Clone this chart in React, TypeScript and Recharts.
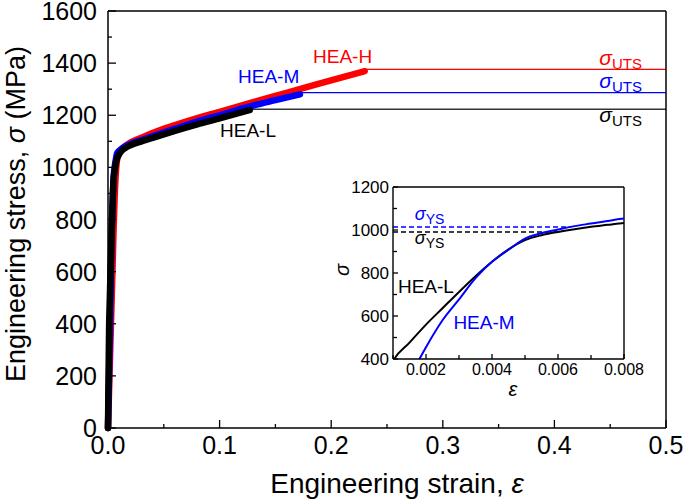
import React from "react";
import { LineChart, Line, XAxis, YAxis, ReferenceLine, ReferenceDot } from "recharts";

const FONT = "Arial, 'Liberation Sans', Helvetica, sans-serif";
const RED = "#ff0000";
const BLUE = "#0000ff";
const BLACK = "#000000";

// HEA-L
const strainL = [0, 0.0005, 0.001, 0.0015, 0.002, 0.0025, 0.003, 0.0035, 0.004, 0.0045, 0.005, 0.0055, 0.006, 0.0065, 0.007, 0.0075, 0.008, 0.01, 0.012, 0.015, 0.02, 0.03, 0.045, 0.06, 0.08, 0.1, 0.127];
const stressL = [0, 200, 391, 476, 560, 636, 712, 785, 852, 910, 953, 976, 991, 1004, 1015, 1024, 1033, 1050, 1062, 1073, 1085, 1100, 1120, 1140, 1165, 1188, 1220];

// HEA-M
const strainM = [0, 0.001, 0.0018, 0.002, 0.0025, 0.003, 0.0035, 0.004, 0.0045, 0.005, 0.0055, 0.006, 0.0065, 0.007, 0.0075, 0.008, 0.01, 0.012, 0.015, 0.02, 0.03, 0.045, 0.06, 0.08, 0.1, 0.127, 0.15, 0.172];
const stressM = [0, 220, 400, 455, 580, 677, 776, 852, 908, 960, 985, 1002, 1018, 1030, 1042, 1053, 1064, 1071, 1080, 1090, 1105, 1127, 1148, 1176, 1200, 1234, 1258, 1280];

// HEA-H
const strainH = [0, 0.002, 0.004, 0.005, 0.006, 0.007, 0.008, 0.01, 0.012, 0.015, 0.02, 0.03, 0.045, 0.06, 0.08, 0.1, 0.13, 0.16, 0.19, 0.23];
const stressH = [0, 300, 600, 760, 890, 975, 1025, 1055, 1068, 1080, 1095, 1114, 1140, 1162, 1189, 1213, 1250, 1286, 1322, 1369];

// ultimate tensile strength L, M, H and yield strength L, M
const utsStress = [1223, 1287, 1376];
const ysStress = [991, 1014];

// ticks
const mainXTicks = [0, 0.05, 0.1, 0.15, 0.2, 0.25, 0.3, 0.35, 0.4, 0.45, 0.5];
const mainXLabels = ["0.0", "", "0.1", "", "0.2", "", "0.3", "", "0.4", "", "0.5"];
const mainYTicks = [0, 100, 200, 300, 400, 500, 600, 700, 800, 900, 1000, 1100, 1200, 1300, 1400, 1500, 1600];
const mainYLabels = ["0", "", "200", "", "400", "", "600", "", "800", "", "1000", "", "1200", "", "1400", "", "1600"];
const insetXTicks = [0.001, 0.002, 0.003, 0.004, 0.005, 0.006, 0.007, 0.008];
const insetXLabels = ["", "0.002", "", "0.004", "", "0.006", "", "0.008"];
const insetYTicks = [400, 500, 600, 700, 800, 900, 1000, 1100, 1200];
const insetYLabels = ["400", "", "600", "", "800", "", "1000", "", "1200"];

const rows = (e: number[], s: number[]) => e.map((v, i) => ({ e: v, s: s[i] }));
const dataL = rows(strainL, stressL);
const dataM = rows(strainM, stressM);
const dataH = rows(strainH, stressH);

// strain where a curve first reaches a stress level
const crossAt = (e: number[], s: number[], level: number) => {
  for (let i = 1; i < s.length; i++) {
    if (s[i] >= level) {
      const t = (level - s[i - 1]) / (s[i] - s[i - 1]);
      return e[i - 1] + t * (e[i] - e[i - 1]);
    }
  }
  return e[e.length - 1];
};

const axisTick =
  (ticks: number[], labels: string[], side: "left" | "right" | "bottom", major: number, minor: number, fontSize: number, gap: number) =>
  (p: any) => {
    const idx = ticks.findIndex((t) => Math.abs(t - p.payload.value) < 1e-9);
    const label = labels[idx] ?? "";
    const len = label ? major : minor;
    const { x, y } = p;
    const txt = { fontSize, fontFamily: FONT, fill: BLACK };
    if (side === "bottom") {
      return (
        <g>
          <line x1={x} x2={x} y1={y} y2={y - len} stroke={BLACK} strokeWidth={1.3} />
          {label && (
            <text x={x} y={y + gap} textAnchor="middle" {...txt}>
              {label}
            </text>
          )}
        </g>
      );
    }
    if (side === "left") {
      return (
        <g>
          <line x1={x} x2={x + len} y1={y} y2={y} stroke={BLACK} strokeWidth={1.3} />
          {label && (
            <text x={x - gap} y={y} dy="0.36em" textAnchor="end" {...txt}>
              {label}
            </text>
          )}
        </g>
      );
    }
    return <line x1={x} x2={x - len} y1={y} y2={y} stroke={BLACK} strokeWidth={1.3} />;
  };

const note = (key: string, x: number, y: number, node: React.ReactNode) => (
  <ReferenceDot
    key={key}
    x={x}
    y={y}
    r={0}
    fill="none"
    stroke="none"
    ifOverflow="visible"
    label={(p: any) => {
      const vb = p.viewBox ?? p;
      return <g transform={`translate(${vb.x},${vb.y})`}>{node}</g>;
    }}
  />
);

const sub = (s: string, color: string, size: number, subSize: number, anchor: "start" | "end") => (
  <text textAnchor={anchor} fill={color} fontFamily={FONT}>
    <tspan fontStyle="italic" fontSize={size}>σ</tspan>
    <tspan fontSize={subSize} dy={4}>{s}</tspan>
  </text>
);

const tag = (s: string, color: string, size = 19) => (
  <text fill={color} fontSize={size} fontFamily={FONT}>
    {s}
  </text>
);

const Inset = () => (
  <LineChart width={340} height={234} margin={{ top: 12, right: 46, bottom: 0, left: 0 }}>
    <XAxis
      type="number"
      dataKey="e"
      domain={[0.001, 0.008]}
      allowDataOverflow
      ticks={insetXTicks}
      interval={0}
      height={50}
      tickLine={false}
      tickSize={0}
      tickMargin={0}
      axisLine={{ stroke: BLACK, strokeWidth: 1.4 }}
      tick={axisTick(insetXTicks, insetXLabels, "bottom", 5, 4, 16, 16)}
      label={() => (
        <text x={183} y={221} textAnchor="middle" fontSize={20} fontStyle="italic" fontFamily={FONT} fill={BLACK}>
          ε
        </text>
      )}
    />
    <YAxis
      type="number"
      domain={[400, 1200]}
      allowDataOverflow
      ticks={insetYTicks}
      interval={0}
      width={63}
      tickLine={false}
      tickSize={0}
      tickMargin={0}
      axisLine={{ stroke: BLACK, strokeWidth: 1.4 }}
      tick={axisTick(insetYTicks, insetYLabels, "left", 5, 4, 17, 4)}
      label={() => (
        <text x={19} y={95} transform="rotate(-90, 19, 95)" textAnchor="middle" fontSize={20} fontStyle="italic" fontFamily={FONT} fill={BLACK}>
          σ
        </text>
      )}
    />
    <ReferenceLine y={1200} stroke={BLACK} strokeWidth={1.4} ifOverflow="visible" />
    <ReferenceLine x={0.008} stroke={BLACK} strokeWidth={1.4} ifOverflow="visible" />
    <ReferenceLine
      segment={[{ x: 0.001, y: ysStress[0] }, { x: crossAt(strainL, stressL, ysStress[0]), y: ysStress[0] }]}
      stroke={BLACK}
      strokeWidth={1.6}
      strokeDasharray="5 3"
    />
    <ReferenceLine
      segment={[{ x: 0.001, y: ysStress[1] }, { x: crossAt(strainM, stressM, ysStress[1]), y: ysStress[1] }]}
      stroke={BLUE}
      strokeWidth={1.6}
      strokeDasharray="5 3"
    />
    <Line data={dataL} dataKey="s" stroke={BLACK} strokeWidth={2} dot={false} type="monotone" isAnimationActive={false} />
    <Line data={dataM} dataKey="s" stroke={BLUE} strokeWidth={2} dot={false} type="monotone" isAnimationActive={false} />
    {note("ysM", 0.00166, 1045, sub("YS", BLUE, 18, 14, "start"))}
    {note("ysL", 0.00166, 934, sub("YS", BLACK, 18, 14, "start"))}
    {note("inL", 0.00115, 706, tag("HEA-L", BLACK))}
    {note("inM", 0.00283, 539, tag("HEA-M", BLUE))}
  </LineChart>
);

export default function App() {
  const ends = [strainL[strainL.length - 1], strainM[strainM.length - 1], strainH[strainH.length - 1]];
  const utsColors = ["#333333", BLUE, RED];
  return (
    <div style={{ position: "absolute", left: 0, top: 0, width: 685, height: 503, background: "#fff" }}>
      <LineChart width={685} height={503} margin={{ top: 11, right: 0, bottom: 0, left: 0 }}>
        <XAxis
          type="number"
          dataKey="e"
          domain={[0, 0.5]}
          ticks={mainXTicks}
          interval={0}
          height={75}
          tickLine={false}
          tickSize={0}
          tickMargin={0}
          axisLine={{ stroke: BLACK, strokeWidth: 1.5 }}
          tick={axisTick(mainXTicks, mainXLabels, "bottom", 8, 4, 25, 26)}
          label={() => (
            <text x={397} y={493} textAnchor="middle" fontSize={28} fontFamily={FONT} fill={BLACK}>
              Engineering strain, <tspan fontStyle="italic">ε</tspan>
            </text>
          )}
        />
        <YAxis
          type="number"
          domain={[0, 1600]}
          ticks={mainYTicks}
          interval={0}
          width={108}
          tickLine={false}
          tickSize={0}
          tickMargin={0}
          axisLine={{ stroke: BLACK, strokeWidth: 1.5 }}
          tick={axisTick(mainYTicks, mainYLabels, "left", 8, 4, 25, 11)}
          label={() => (
            <text x={25} y={214} transform="rotate(-90, 25, 214)" textAnchor="middle" fontSize={27} fontFamily={FONT} fill={BLACK}>
              Engineering stress, <tspan fontStyle="italic">σ</tspan> (MPa)
            </text>
          )}
        />
        <YAxis
          yAxisId="r"
          orientation="right"
          type="number"
          domain={[0, 1600]}
          ticks={mainYTicks}
          interval={0}
          width={19}
          tickLine={false}
          tickSize={0}
          tickMargin={0}
          axisLine={{ stroke: BLACK, strokeWidth: 1.5 }}
          tick={axisTick(mainYTicks, mainYLabels, "right", 7, 4, 25, 0)}
        />
        <ReferenceLine y={1600} stroke={BLACK} strokeWidth={1.5} ifOverflow="visible" />
        {utsStress.map((u, i) => (
          <ReferenceLine
            key={`uts${i}`}
            segment={[{ x: ends[i], y: u }, { x: 0.5, y: u }]}
            stroke={utsColors[i]}
            strokeWidth={1.3}
          />
        ))}
        <Line data={dataH} dataKey="s" stroke={RED} strokeWidth={6.5} strokeLinecap="round" strokeLinejoin="round" dot={false} type="monotone" isAnimationActive={false} />
        <Line data={dataM} dataKey="s" stroke={BLUE} strokeWidth={6.5} strokeLinecap="round" strokeLinejoin="round" dot={false} type="monotone" isAnimationActive={false} />
        <Line data={dataL} dataKey="s" stroke={BLACK} strokeWidth={6.5} strokeLinecap="round" strokeLinejoin="round" dot={false} type="monotone" isAnimationActive={false} />
        {note("hH", 0.1837, 1400, tag("HEA-H", RED))}
        {note("hM", 0.1165, 1324, tag("HEA-M", BLUE))}
        {note("hL", 0.1004, 1117, tag("HEA-L", BLACK))}
        {note("uH", 0.4785, 1393, sub("UTS", RED, 21, 15, "end"))}
        {note("uM", 0.4785, 1305, sub("UTS", BLUE, 21, 15, "end"))}
        {note("uL", 0.4785, 1174, sub("UTS", BLACK, 21, 15, "end"))}
      </LineChart>
      <div style={{ position: "absolute", left: 330, top: 175 }}>
        <Inset />
      </div>
    </div>
  );
}
